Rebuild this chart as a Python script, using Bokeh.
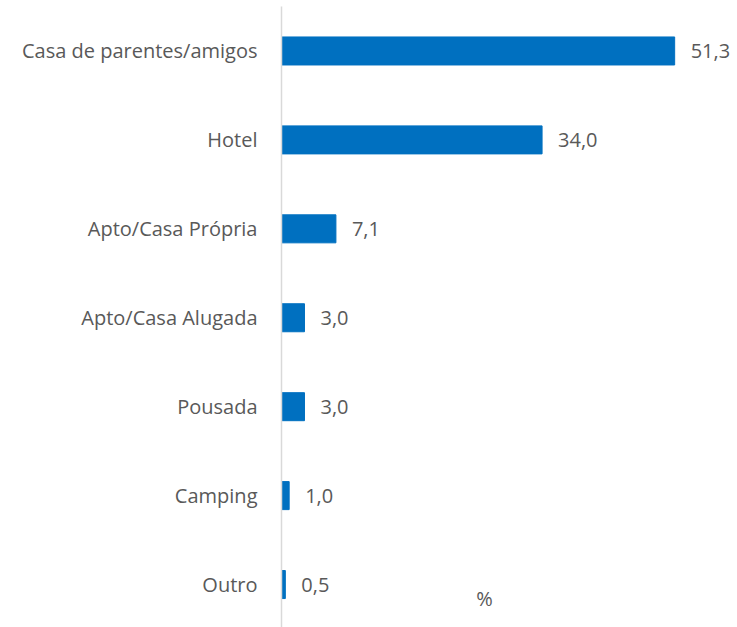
from bokeh.plotting import figure
from bokeh.models import ColumnDataSource, FixedTicker, Label
from bokeh.core.properties import value
from bokeh.embed import file_html
from bokeh.resources import INLINE

categories = ["Casa de parentes/amigos", "Hotel", "Apto/Casa Própria",
              "Apto/Casa Alugada", "Pousada", "Camping", "Outro"]
values = [51.3, 34.0, 7.1, 3.0, 3.0, 1.0, 0.5]
labels = ["51,3", "34,0", "7,1", "3,0", "3,0", "1,0", "0,5"]

n = len(categories)
ypos = [n - 1 - i for i in range(n)]

FONT = "Open Sans"
FSIZE = "20px"
TEXT_COLOR = "#595959"
BAR_COLOR = "#0070C0"

src = ColumnDataSource(dict(y=ypos, v=values, lab=labels, cat=categories))

p = figure(width=737, height=627, output_backend="svg", toolbar_location=None,
           x_range=(0, 59.5), y_range=(-0.483, 6.5),
           min_border_left=281, min_border_right=0, min_border_top=6, min_border_bottom=0)

p.hbar(y="y", right="v", left=0, height=0.315, color=BAR_COLOR, source=src)
p.text(x="v", y="y", text="lab", source=src, x_offset=16,
       text_align="left", text_baseline="middle",
       text_font_size=FSIZE, text_color=TEXT_COLOR, text_font=value(FONT))

p.add_layout(Label(x=26.5, y=-0.152, text="%", text_align="center", text_baseline="middle",
                   text_font_size=FSIZE, text_color=TEXT_COLOR, text_font=FONT))

p.xaxis.visible = False
p.grid.visible = False
p.outline_line_color = None

ya = p.yaxis[0]
ya.ticker = FixedTicker(ticks=ypos)
ya.major_label_overrides = {y: c for y, c in zip(ypos, categories)}
ya.major_tick_line_color = None
ya.minor_tick_line_color = None
ya.axis_line_color = "#D9D9D9"
ya.axis_line_width = 1.5
ya.major_label_standoff = 18
ya.major_label_text_font = FONT
ya.major_label_text_font_size = FSIZE
ya.major_label_text_color = TEXT_COLOR

open("out.html", "w").write(file_html(p, INLINE))
